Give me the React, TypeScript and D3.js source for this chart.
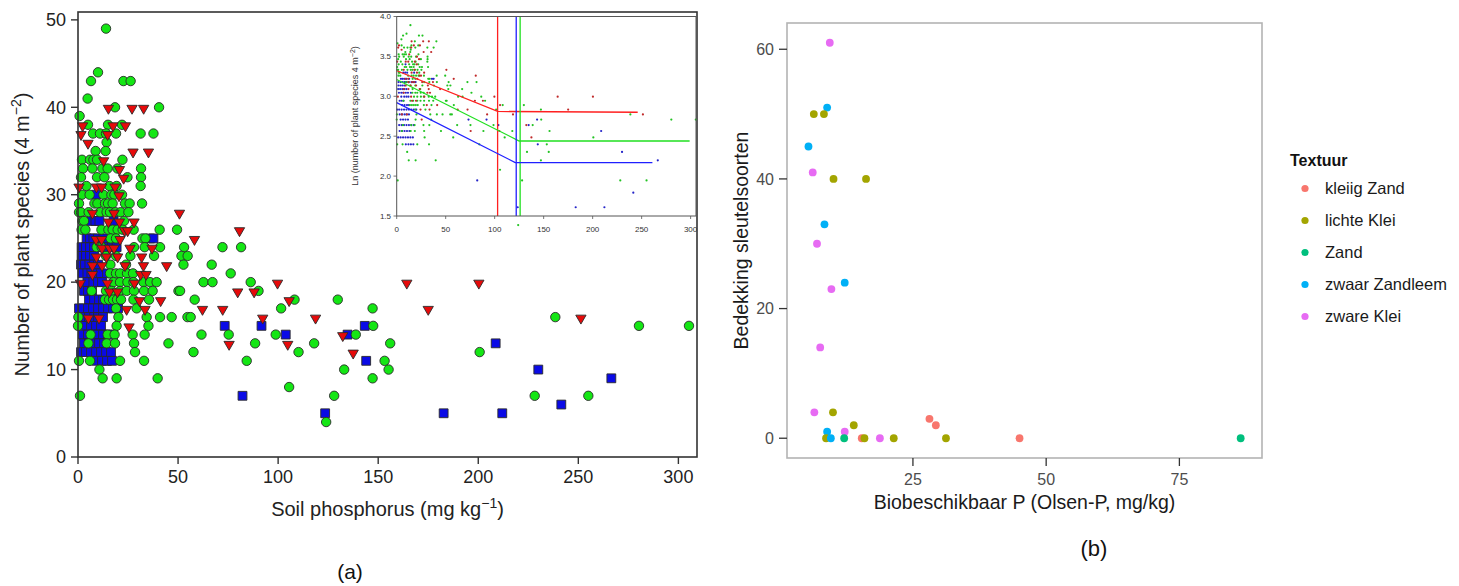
import React from 'react';
import * as d3 from 'd3';

const W = 1459;
const H = 586;
const FONT = "'Liberation Sans', Arial, sans-serif";

// (a) soil P (mg/kg) vs number of plant species, three groups
const greenPts: [number, number][] = [
  [14, 49], [10, 44], [6.5, 43], [22.7, 43], [26.3, 43], [4.8, 41], [18.5, 40], [40.5, 40], [0.8, 39],
  [5, 38], [15, 38], [22, 38],
  [7.5, 37], [11, 37], [14, 37], [19, 37], [31.3, 37], [37.7, 37],
  [14.3, 36], [8.8, 35], [13.8, 35],
  [2, 34], [6, 34], [7.7, 34], [9.5, 34], [22.2, 34],
  [2.5, 33], [7.2, 33], [12.2, 33], [14.8, 33], [19.7, 33], [31.5, 33],
  [1.5, 32], [9.5, 32], [13.2, 32], [24.7, 32], [31.5, 32],
  [4.2, 31], [15.7, 31], [19.3, 31], [31.3, 31],
  [2, 30], [5.8, 30], [12.7, 30], [16.7, 30], [18.2, 30], [22, 30],
  [0.5, 29], [8.2, 29], [9.7, 29], [13.5, 29], [15, 29], [17.3, 29], [23.5, 29], [25.8, 29], [32, 29],
  [0.5, 28], [1.5, 28], [5.3, 28], [11, 28], [14.3, 28], [16, 28], [18.7, 28], [21.3, 28], [25.2, 28],
  [2.2, 27], [3, 27], [23, 27],
  [1.8, 26], [3.7, 26], [11.7, 26], [15.2, 26], [17.3, 26], [19.8, 26], [22.3, 26], [27.8, 26], [40.8, 26], [49.5, 26],
  [16.3, 25], [19, 25], [32.2, 25], [33.7, 25],
  [9.3, 24], [11.8, 24], [28, 24], [33.3, 24], [41, 24], [53, 24], [72.2, 24], [81.5, 24],
  [14, 23], [19, 23], [26.2, 23], [38, 23], [51.7, 23], [54.8, 23],
  [16.2, 22], [24, 22], [52.7, 22], [66.8, 22],
  [16, 21], [19, 21], [21, 21], [24.5, 21], [27.5, 21], [76.3, 21],
  [17.7, 20], [21, 20], [24.7, 20], [27.7, 20], [32.7, 20], [36, 20], [39.3, 20], [62.7, 20], [67.2, 20], [86.3, 20],
  [6.8, 19], [14, 19], [16.8, 19], [21, 19], [24.3, 19], [28, 19], [33, 19], [37.3, 19], [50.2, 19], [51, 19], [90.2, 19],
  [13.5, 18], [15.5, 18], [17.5, 18], [19.5, 18], [21.5, 18], [27.7, 18], [35.5, 18], [58.3, 18], [108.2, 18], [129.8, 18],
  [19, 17], [29.3, 17], [101.5, 17], [147.2, 17],
  [0.2, 16], [20.2, 16], [34.3, 16], [41, 16], [46.8, 16], [54.7, 16], [56.3, 16], [238.5, 16],
  [0, 15], [19.3, 15], [35.2, 15], [147.5, 15], [280.3, 15], [305.3, 15],
  [6.3, 14], [14.8, 14], [18.3, 14], [27.3, 14], [33.3, 14], [61.7, 14], [75.3, 14], [98.8, 14], [138.8, 14],
  [5.2, 13], [14.3, 13], [18.5, 13], [28, 13], [45.2, 13], [88.5, 13], [118, 13], [156, 13],
  [28.5, 12], [57.7, 12], [110.2, 12], [200.7, 12],
  [0.5, 11], [6, 11], [21, 11], [33, 11], [84.3, 11], [153.2, 11],
  [10.7, 10], [133, 10], [155.2, 10],
  [12.3, 9], [19.3, 9], [39.8, 9], [147.2, 9],
  [105.5, 8],
  [1, 7], [128, 7], [228.2, 7], [255, 7],
  [124, 4],
];

const bluePts: [number, number][] = [
  [9, 30],
  [6.7, 27], [8.7, 27], [10.7, 27], [17.8, 27],
  [4.3, 25], [6, 25], [7.7, 25], [10, 25], [12.7, 25], [36, 25], [37.7, 25],
  [1.8, 24], [4, 24], [6, 24], [8, 24], [10, 24], [12.5, 24], [15, 24], [17, 24], [19.3, 24],
  [1.8, 23], [4, 23], [6, 23], [8, 23],
  [1.5, 22], [3.5, 22], [5.7, 22], [8, 22], [10, 22],
  [2.3, 21], [4.7, 21], [6.7, 21], [9.3, 21], [11.5, 21], [14.5, 21],
  [4.7, 20], [7.7, 20], [10, 20], [12, 20],
  [3, 19], [5, 19], [7, 19],
  [5.5, 18], [8, 18], [10.5, 18], [12.5, 18],
  [0.5, 17], [2.5, 17], [5, 17], [7.5, 17], [10, 17], [12.5, 17], [15, 17], [17.5, 17], [20, 17],
  [3, 16], [5.5, 16], [8, 16], [10, 16], [12.5, 16],
  [4, 15], [6.5, 15], [9, 15], [11.5, 15], [73.3, 15], [91.7, 15], [143.3, 15],
  [2.5, 14], [5, 14], [7.5, 14], [10, 14], [12.5, 14], [15, 14], [17.5, 14], [103.8, 14], [134.7, 14],
  [3, 13], [5.5, 13], [8, 13], [10.5, 13], [13, 13], [208.7, 13],
  [1.5, 12], [4, 12], [6.5, 12], [9, 12], [11.5, 12], [14, 12], [16.5, 12],
  [9.3, 11], [12, 11], [14.5, 11], [17, 11], [144, 11],
  [230, 10], [266.5, 9], [82.2, 7], [241.5, 6],
  [123.5, 5], [182.7, 5], [212, 5],
];

const redPts: [number, number][] = [
  [15.2, 40], [27, 40], [32.8, 40],
  [2.3, 38], [17.5, 38], [23.7, 38],
  [1.5, 37], [14.8, 37], [5, 36],
  [27.5, 35], [35.2, 35], [12.8, 34], [20.7, 33], [22.8, 32],
  [0.5, 31], [9.2, 31], [11.8, 31], [18.5, 31], [20.5, 30],
  [7.2, 28], [18, 28], [50.7, 28],
  [15.2, 27], [20.7, 27], [28, 27],
  [23.3, 26], [24.8, 26], [80.7, 26],
  [9, 25], [11.8, 25], [21, 25], [58.2, 25],
  [12, 24], [15.8, 24], [18, 24], [26, 24], [37, 24],
  [9.2, 23], [14.2, 23], [19.8, 23], [31.8, 23],
  [7.2, 22], [12, 22], [23.5, 22], [32.7, 22], [44.3, 22],
  [7.2, 21], [31.3, 21], [34, 21],
  [1.2, 20], [14.7, 20], [28.2, 20], [99.7, 20], [164.3, 20], [200.3, 20],
  [15.7, 19], [19.7, 19], [79.8, 19], [88, 19],
  [30.7, 18], [41.3, 18], [105.5, 18],
  [24.3, 17], [33.5, 17], [62.2, 17], [72.3, 17], [175, 17],
  [5.2, 16], [10.5, 16], [92.3, 16], [118.7, 16], [251.3, 16],
  [25.5, 15], [132.3, 14], [75.5, 13], [104.8, 13], [137.5, 12],
];

const mainXTicks = [0, 50, 100, 150, 200, 250, 300];
const mainYTicks = [0, 10, 20, 30, 40, 50];

// inset: broken-stick fits on ln(species), [P, ln value] vertices and breakpoints
const insetRedLine: [number, number][] = [[0, 3.32], [103, 2.81], [246, 2.8]];
const insetGreenLine: [number, number][] = [[0, 3.21], [125, 2.44], [299, 2.44]];
const insetBlueLine: [number, number][] = [[0, 2.92], [121, 2.17], [261, 2.17]];
const insetBreaks = [103, 126, 122];
const insetXTicks = [0, 50, 100, 150, 200, 250, 300];
const insetYTicks = [1.5, 2.0, 2.5, 3.0, 3.5, 4.0];

// (b) Olsen-P vs cover of key species, by soil texture
const textures = ['kleiig Zand', 'lichte Klei', 'Zand', 'zwaar Zandleem', 'zware Klei'];
const textureColors = ['#F8766D', '#A3A500', '#00BF7D', '#00B0F6', '#E76BF3'];
const olsenP = [9.4, 8.9, 6.4, 8.3, 5.4, 6.2, 10.1, 16.2, 8.4, 7.0, 12.2, 9.7, 7.6, 6.5, 10.0, 13.9, 8.9, 12.2, 8.7, 9.6, 12.1, 15.4, 15.9, 18.8, 21.4, 28.1, 29.3, 31.2, 45.0, 86.5];
const cover = [61, 51, 50, 50, 45, 41, 40, 40, 33, 30, 24, 23, 14, 4, 4, 2, 1, 1, 0, 0, 0, 0, 0, 0, 0, 3, 2, 0, 0, 0];
const texIdx = [4, 3, 1, 1, 3, 4, 1, 1, 3, 4, 3, 4, 4, 4, 1, 1, 3, 4, 1, 3, 2, 0, 1, 4, 1, 0, 0, 1, 0, 2];
const rightXTicks = [25, 50, 75];
const rightYTicks = [0, 20, 40, 60];

export default function App() {
  const x = d3.scaleLinear().domain([0, 309.3]).range([78, 697]);
  const y = d3.scaleLinear().domain([0, 50.9]).range([457, 12]);

  const ix = d3.scaleLinear().domain([0, 305.5]).range([396.7, 696]);
  const iy = d3.scaleLinear().domain([1.5, 4.0]).range([216, 16.5]);
  const iline = d3.line<[number, number]>().x((d) => ix(d[0])).y((d) => iy(d[1]));

  const rx = d3.scaleLinear().domain([1.37, 90.5]).range([787, 1262]);
  const ry = d3.scaleLinear().domain([-3.05, 64.05]).range([458, 23]);

  const tri = d3.symbol(d3.symbolTriangle, 46)();
  const sq = d3.symbol(d3.symbolSquare, 78)();

  const insetSets: { pts: [number, number][]; col: string }[] = [
    { pts: bluePts, col: '#2424c8' },
    { pts: greenPts, col: '#22c322' },
    { pts: redPts, col: '#c02a2a' },
  ];
  const fits = [
    { line: insetRedLine, col: '#ff2020', brk: insetBreaks[0] },
    { line: insetGreenLine, col: '#20e020', brk: insetBreaks[1] },
    { line: insetBlueLine, col: '#2020ff', brk: insetBreaks[2] },
  ];

  return (
    <svg width={W} height={H} style={{ position: 'absolute', left: 0, top: 0, background: '#fff' }} fontFamily={FONT}>
      <defs>
        <clipPath id="legclip">
          <rect x={1270} y={0} width={179} height={H} />
        </clipPath>
      </defs>

      {/* ---------- panel (a) ---------- */}
      <g>
        {bluePts.map((d, i) => (
          <path key={'b' + i} d={sq!} transform={`translate(${x(d[0])},${y(d[1])})`} fill="#0a0ae6" stroke="#2a2a2a" strokeWidth={0.9} />
        ))}
        {greenPts.map((d, i) => (
          <circle key={'g' + i} cx={x(d[0])} cy={y(d[1])} r={4.7} fill="#14e614" stroke="#2a2a2a" strokeWidth={0.9} />
        ))}
        {redPts.map((d, i) => (
          <path key={'r' + i} d={tri!} transform={`translate(${x(d[0])},${y(d[1]) + 1}) rotate(180)`} fill="#e60a0a" stroke="#2a2a2a" strokeWidth={0.9} />
        ))}

        <rect x={78} y={12} width={619} height={445} fill="none" stroke="#333" strokeWidth={1.6} />
        {mainYTicks.map((t) => (
          <g key={'my' + t}>
            <line x1={71} x2={78} y1={y(t)} y2={y(t)} stroke="#333" strokeWidth={1.4} />
            <text x={66} y={y(t)} dy="0.35em" textAnchor="end" fontSize={18} fill="#222">{t}</text>
          </g>
        ))}
        {mainXTicks.map((t) => (
          <g key={'mx' + t}>
            <line x1={x(t)} x2={x(t)} y1={457} y2={464} stroke="#333" strokeWidth={1.4} />
            <text x={x(t)} y={483} textAnchor="middle" fontSize={18} fill="#222">{t}</text>
          </g>
        ))}
        <text x={387.5} y={516} textAnchor="middle" fontSize={20} fill="#222">
          Soil phosphorus (mg kg<tspan dy={-8} fontSize={14}>−1</tspan><tspan dy={8}>)</tspan>
        </text>
        <text transform="translate(29,234.5) rotate(-90)" textAnchor="middle" fontSize={20} fill="#222">
          Number of plant species (4 m<tspan dy={-8} fontSize={14}>−2</tspan><tspan dy={8}>)</tspan>
        </text>

        {/* inset */}
        <g>
          {insetSets.map((s, k) =>
            s.pts.map((d, i) => (
              <circle key={`i${k}-${i}`} cx={ix(d[0])} cy={iy(Math.log(d[1]))} r={1.1} fill={s.col} />
            ))
          )}
          {fits.map((f, k) => (
            <g key={'f' + k}>
              <path d={iline(f.line)!} fill="none" stroke={f.col} strokeWidth={1.3} />
              <line x1={ix(f.brk)} x2={ix(f.brk)} y1={iy(1.5)} y2={iy(4.0)} stroke={f.col} strokeWidth={1.3} />
            </g>
          ))}
          <rect x={396.7} y={16.5} width={299.3} height={199.5} fill="none" stroke="#555" strokeWidth={1} />
          {insetYTicks.map((t) => (
            <g key={'iy' + t}>
              <line x1={393.5} x2={396.7} y1={iy(t)} y2={iy(t)} stroke="#555" strokeWidth={0.8} />
              <text x={391} y={iy(t)} dy="0.35em" textAnchor="end" fontSize={8} fill="#333">{t.toFixed(1)}</text>
            </g>
          ))}
          {insetXTicks.map((t) => (
            <g key={'ix' + t}>
              <line x1={ix(t)} x2={ix(t)} y1={216} y2={219} stroke="#555" strokeWidth={0.8} />
              <text x={ix(t)} y={232} textAnchor="middle" fontSize={8} fill="#333">{t}</text>
            </g>
          ))}
          <text transform="translate(358,116) rotate(-90)" textAnchor="middle" fontSize={9} fill="#333">
            Ln (number of plant species 4 m<tspan dy={-3} fontSize={7}>−2</tspan><tspan dy={3}>)</tspan>
          </text>
        </g>

        <text x={350} y={579} textAnchor="middle" fontSize={21} fill="#111">(a)</text>
      </g>

      {/* ---------- panel (b) ---------- */}
      <g>
        <rect x={787} y={23} width={475} height={435} fill="#fff" stroke="#b3b3b3" strokeWidth={1.6} />
        {olsenP.map((p, i) => (
          <circle key={'o' + i} cx={rx(p)} cy={ry(cover[i])} r={3.9} fill={textureColors[texIdx[i]]} />
        ))}
        {rightYTicks.map((t) => (
          <g key={'ry' + t}>
            <line x1={779} x2={787} y1={ry(t)} y2={ry(t)} stroke="#333" strokeWidth={1.3} />
            <text x={774} y={ry(t)} dy="0.35em" textAnchor="end" fontSize={16} fill="#4d4d4d">{t}</text>
          </g>
        ))}
        {rightXTicks.map((t) => (
          <g key={'rx' + t}>
            <line x1={rx(t)} x2={rx(t)} y1={458} y2={466} stroke="#333" strokeWidth={1.3} />
            <text x={rx(t)} y={485} textAnchor="middle" fontSize={16} fill="#4d4d4d">{t}</text>
          </g>
        ))}
        <text x={1024.5} y={509} textAnchor="middle" fontSize={19.5} fill="#1a1a1a">Biobeschikbaar P (Olsen-P, mg/kg)</text>
        <text transform="translate(748,240.5) rotate(-90)" textAnchor="middle" fontSize={19.5} fill="#1a1a1a">Bedekking sleutelsoorten</text>

        <g clipPath="url(#legclip)">
          <text x={1290} y={166} fontSize={16} fontWeight="bold" fill="#111">Textuur</text>
          {textures.map((t, i) => (
            <g key={'l' + i}>
              <circle cx={1305} cy={188.5 + i * 32} r={3.6} fill={textureColors[i]} />
              <text x={1325} y={188.5 + i * 32} dy="0.36em" fontSize={16.5} fill="#1a1a1a">{t}</text>
            </g>
          ))}
        </g>

        <text x={1094} y={556} textAnchor="middle" fontSize={22} fill="#111">(b)</text>
      </g>
    </svg>
  );
}
